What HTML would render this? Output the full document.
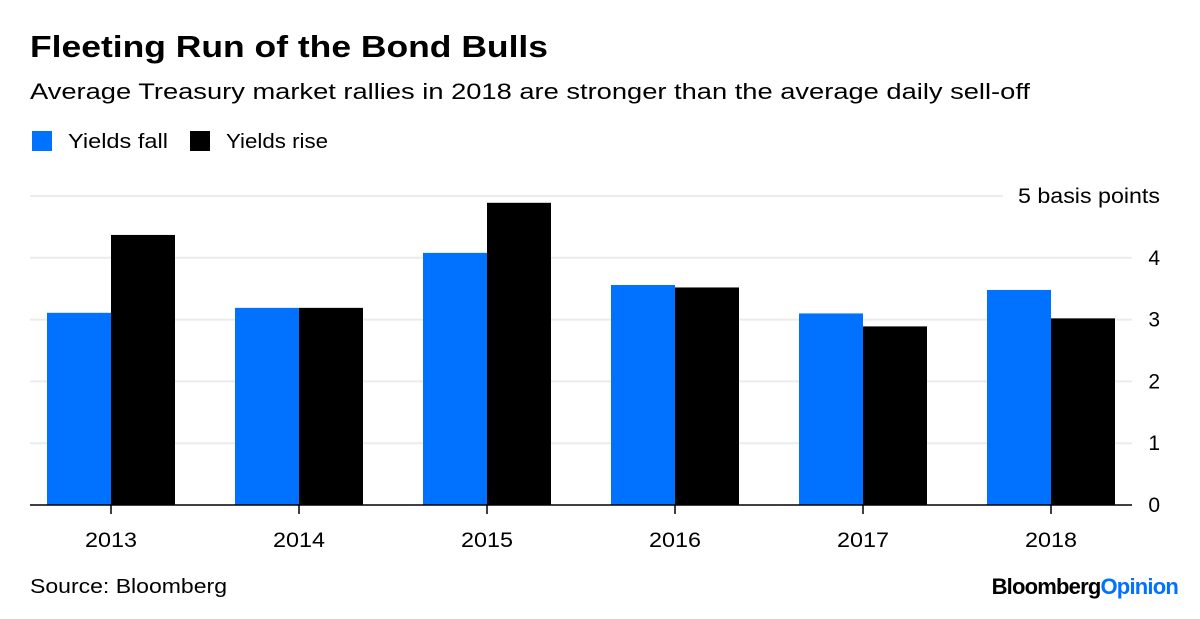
<!DOCTYPE html>
<html><head><meta charset="utf-8"><style>
body{margin:0;background:#fff;width:1200px;height:614px;overflow:hidden;font-family:"Liberation Sans",sans-serif;}
</style></head><body>
<svg width="1200" height="614">
<text x="30" y="57" font-size="31" font-weight="bold" fill="#000" textLength="518" lengthAdjust="spacingAndGlyphs">Fleeting Run of the Bond Bulls</text>
<text x="30" y="99" font-size="22" fill="#000" textLength="1000" lengthAdjust="spacingAndGlyphs">Average Treasury market rallies in 2018 are stronger than the average daily sell-off</text>
<rect x="32" y="131" width="20" height="20" fill="#0072ff"/>
<text x="68" y="148" font-size="20" textLength="100" lengthAdjust="spacingAndGlyphs">Yields fall</text>
<rect x="190" y="131" width="20" height="20" fill="#000"/>
<text x="226" y="148" font-size="20" textLength="102" lengthAdjust="spacingAndGlyphs">Yields rise</text>
<g id="grid"></g><g id="bars"></g><g id="axes"></g>
<text x="30" y="593" font-size="20" textLength="197" lengthAdjust="spacingAndGlyphs">Source: Bloomberg</text>
<text x="1178" y="594" font-size="22" font-weight="bold" text-anchor="end" letter-spacing="-0.8"><tspan fill="#000">Bloomberg</tspan><tspan fill="#0072ff">Opinion</tspan></text>
</svg>
<script>
const categories=["2013","2014","2015","2016","2017","2018"];
const yieldsFall=[3.11,3.19,4.08,3.56,3.10,3.48];
const yieldsRise=[4.37,3.19,4.89,3.52,2.89,3.02];
const yTicks=[0,1,2,3,4,5];
const NS="http://www.w3.org/2000/svg";
const y=v=>505-v*61.8;
const xc=i=>111+i*188;
const bw=64;
function mk(t,a,p){const e=document.createElementNS(NS,t);for(const k in a)e.setAttribute(k,a[k]);p.appendChild(e);return e;}
const g=document.getElementById('grid'),b=document.getElementById('bars'),ax=document.getElementById('axes');
yTicks.forEach(t=>{
 if(t>0){const l=mk('line',{x1:30,x2:t===5?1003:1132,y1:y(t),y2:y(t),stroke:'#ececec','stroke-width':2},g);
 
 }
 const attrs={x:1160,y:y(t)+7,'font-size':21,'text-anchor':'end'};
 if(t===5){attrs.textLength=142;attrs.lengthAdjust='spacingAndGlyphs';}
 const tx=mk('text',attrs,ax);
 tx.textContent=t===5?'5 basis points':String(t);
 
 
});
categories.forEach((c,i)=>{
 const r1=mk('rect',{x:xc(i)-bw,y:y(yieldsFall[i]),width:bw,height:y(0)-y(yieldsFall[i]),fill:'#0072ff'},b);
 
 
 const r2=mk('rect',{x:xc(i),y:y(yieldsRise[i]),width:bw,height:y(0)-y(yieldsRise[i]),fill:'#000'},b);
 
 
 const tk=mk('line',{x1:xc(i),x2:xc(i),y1:505,y2:514,stroke:'#000','stroke-width':1.5},ax);
 
 
 const tl=mk('text',{x:xc(i),y:547,'font-size':21,'text-anchor':'middle',textLength:52,lengthAdjust:'spacingAndGlyphs'},ax);
 tl.textContent=c;
 
 
});
const base=mk('line',{x1:30,x2:1132,y1:505,y2:505,stroke:'#000','stroke-width':1.5},ax);


</script>
</body></html>
